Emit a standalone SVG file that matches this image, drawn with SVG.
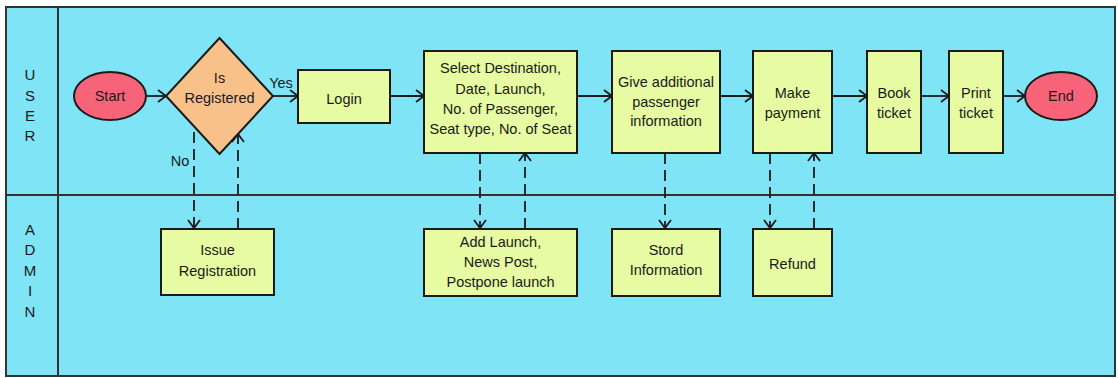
<svg xmlns="http://www.w3.org/2000/svg" width="1118" height="378" viewBox="0 0 1118 378">
<style>
.lane{fill:#80E4F7;stroke:#333;stroke-width:2}
.div{stroke:#333;stroke-width:2;fill:none}
.box{fill:#E6FBA2;stroke:#1a1a1a;stroke-width:2}
.term{fill:#F76479;stroke:#1a1a1a;stroke-width:2}
.dec{fill:#F8C18A;stroke:#1a1a1a;stroke-width:2}
text{font-family:"Liberation Sans",Arial,sans-serif;font-size:14.5px;fill:#1a1a1a;text-anchor:middle}
.lbl{font-size:15px}
.c{stroke:#1a1a1a;stroke-width:1.8;fill:none;marker-end:url(#arr)}
.d{stroke-dasharray:11,6}
</style>
<defs>
<marker id="arr" markerUnits="userSpaceOnUse" markerWidth="12" markerHeight="16" refX="9" refY="7" orient="auto">
<path d="M1,1 L9,7 L1,13" fill="none" stroke="#1a1a1a" stroke-width="1.8"/>
</marker>
</defs>
<g id="lanes">
<rect class="lane" x="6" y="7" width="1109" height="369"/>
<line class="div" x1="58" y1="7" x2="58" y2="376"/>
<line class="div" x1="6" y1="195" x2="1115" y2="195"/>
<text class="lbl" x="30" y="80">U</text>
<text class="lbl" x="30" y="101">S</text>
<text class="lbl" x="30" y="121">E</text>
<text class="lbl" x="30" y="141">R</text>
<text class="lbl" x="30" y="235">A</text>
<text class="lbl" x="30" y="255">D</text>
<text class="lbl" x="30" y="276">M</text>
<text class="lbl" x="30" y="296">I</text>
<text class="lbl" x="30" y="317">N</text>
</g>
<g id="connectors">
<line class="c" x1="146" y1="96" x2="166" y2="96"/>
<line class="c" x1="273" y1="96" x2="298" y2="96"/>
<line class="c" x1="391" y1="96" x2="424" y2="96"/>
<line class="c" x1="577" y1="96" x2="612" y2="96"/>
<line class="c" x1="720" y1="96" x2="753" y2="96"/>
<line class="c" x1="832" y1="96" x2="867" y2="96"/>
<line class="c" x1="921" y1="96" x2="949" y2="96"/>
<line class="c" x1="1003" y1="96" x2="1025" y2="96"/>
<line class="c d" x1="194" y1="132" x2="194" y2="228"/>
<line class="c d" x1="238" y1="229" x2="238" y2="134"/>
<line class="c d" x1="480" y1="153" x2="480" y2="228"/>
<line class="c d" x1="525" y1="229" x2="525" y2="153"/>
<line class="c d" x1="665" y1="153" x2="665" y2="228"/>
<line class="c d" x1="770" y1="153" x2="770" y2="228"/>
<line class="c d" x1="814" y1="229" x2="814" y2="153"/>
<text x="281" y="88">Yes</text>
<text x="180" y="166">No</text>
</g>
<g id="start"><ellipse class="term" cx="110" cy="96" rx="36" ry="24"/><text x="110" y="101">Start</text></g>
<g id="isRegistered"><polygon class="dec" points="219.5,38 273,96 219.5,154 166,96"/><text x="219.5" y="83">Is</text><text x="219.5" y="103">Registered</text></g>
<g id="login"><rect class="box" x="298" y="70" width="92" height="53"/><text x="344" y="104">Login</text></g>
<g id="select"><rect class="box" x="424" y="51" width="153" height="102"/><text x="500.5" y="73">Select Destination,</text><text x="500.5" y="94">Date, Launch,</text><text x="500.5" y="114">No. of Passenger,</text><text x="500.5" y="134">Seat type, No. of Seat</text></g>
<g id="give"><rect class="box" x="612" y="51" width="108" height="102"/><text x="666" y="87">Give additional</text><text x="666" y="107">passenger</text><text x="666" y="126">information</text></g>
<g id="payment"><rect class="box" x="753" y="51" width="79" height="102"/><text x="792.5" y="98">Make</text><text x="792.5" y="118">payment</text></g>
<g id="book"><rect class="box" x="867" y="51" width="54" height="102"/><text x="894" y="98">Book</text><text x="894" y="118">ticket</text></g>
<g id="print"><rect class="box" x="949" y="51" width="54" height="102"/><text x="976" y="98">Print</text><text x="976" y="118">ticket</text></g>
<g id="end"><ellipse class="term" cx="1061" cy="96" rx="36" ry="24"/><text x="1061" y="101">End</text></g>
<g id="issue"><rect class="box" x="161" y="229" width="113" height="66"/><text x="217.5" y="255">Issue</text><text x="217.5" y="276">Registration</text></g>
<g id="addLaunch"><rect class="box" x="424" y="229" width="153" height="67"/><text x="500.5" y="247">Add Launch,</text><text x="500.5" y="267">News Post,</text><text x="500.5" y="287">Postpone launch</text></g>
<g id="stord"><rect class="box" x="612" y="229" width="108" height="67"/><text x="666" y="255">Stord</text><text x="666" y="275">Information</text></g>
<g id="refund"><rect class="box" x="753" y="229" width="79" height="67"/><text x="792.5" y="269">Refund</text></g>
</svg>
